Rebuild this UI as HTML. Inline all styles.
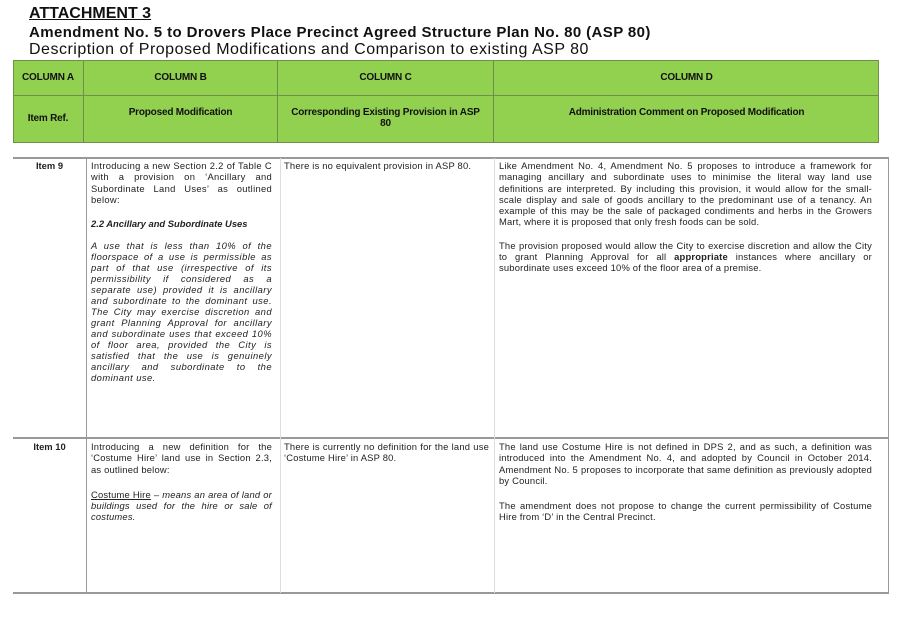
<!DOCTYPE html>
<html><head><meta charset="utf-8"><style>
body{margin:0;width:897px;height:619px;background:#fff;position:relative;font-family:"Liberation Sans",Arial,sans-serif;color:#111;overflow:hidden}
.a{position:absolute;white-space:nowrap}
.h{background:#92d050;border:1px solid #6f8f4a;box-sizing:border-box}
.ht{position:absolute;font-weight:bold;font-size:10px;text-align:center;letter-spacing:-0.2px}
.t{position:absolute;font-size:9.4px;line-height:11.3px;text-align:justify;letter-spacing:0.2px;color:#222}
.vl{position:absolute;width:1px;background:#999}
p{margin:0}
</style></head><body>
<div class="a" style="left:29px;top:5px;font-size:16px;font-weight:bold;text-decoration:underline">ATTACHMENT 3</div>
<div class="a" style="left:29px;top:24px;font-size:15px;font-weight:bold;letter-spacing:0.4px">Amendment No. 5 to Drovers Place Precinct Agreed Structure Plan No. 80 (ASP 80)</div>
<div class="a" style="left:29px;top:41px;font-size:16px;letter-spacing:0.5px">Description of Proposed Modifications and Comparison to existing ASP 80</div>

<div class="a h" style="left:13px;top:60px;width:866px;height:83px"></div>
<div class="a" style="left:13px;top:95px;width:866px;height:1px;background:#6f8f4a"></div>
<div class="a" style="left:83px;top:60px;width:1px;height:83px;background:#6f8f4a"></div>
<div class="a" style="left:277px;top:60px;width:1px;height:83px;background:#6f8f4a"></div>
<div class="a" style="left:493px;top:60px;width:1px;height:83px;background:#6f8f4a"></div>
<div class="ht" style="left:13px;width:70px;top:72px">COLUMN A</div>
<div class="ht" style="left:84px;width:193px;top:72px">COLUMN B</div>
<div class="ht" style="left:278px;width:215px;top:72px">COLUMN C</div>
<div class="ht" style="left:494px;width:385px;top:72px">COLUMN D</div>
<div class="ht" style="left:13px;width:70px;top:113px">Item Ref.</div>
<div class="ht" style="left:84px;width:193px;top:107px">Proposed Modification</div>
<div class="ht" style="left:278px;width:215px;top:107px;line-height:11px">Corresponding Existing Provision in ASP<br>80</div>
<div class="ht" style="left:494px;width:385px;top:107px">Administration Comment on Proposed Modification</div>

<div class="a" style="left:13px;top:157px;width:876px;height:2px;background:#999"></div>
<div class="a" style="left:13px;top:437px;width:876px;height:2px;background:#999"></div>
<div class="a" style="left:13px;top:592px;width:876px;height:2px;background:#999"></div>
<div class="vl" style="left:86px;top:158px;height:435px"></div>
<div class="vl" style="left:280px;top:158px;height:435px;background:#ddd"></div>
<div class="vl" style="left:494px;top:158px;height:435px;background:#ddd"></div>
<div class="vl" style="left:888px;top:158px;height:435px"></div>

<div class="t" style="left:13px;width:73px;top:160px;text-align:center;font-weight:bold;letter-spacing:0">Item 9</div>
<div class="t" style="left:91px;width:181px;top:160px">
<p style="letter-spacing:0.3px">Introducing a new Section 2.2 of Table C with a provision on ‘Ancillary and Subordinate Land Uses’ as outlined below:</p>
<p style="margin-top:13px;font-weight:bold;font-style:italic;letter-spacing:0">2.2 Ancillary and Subordinate Uses</p>
<p style="margin-top:11px;font-style:italic;letter-spacing:0.45px;line-height:11px">A use that is less than 10% of the floorspace of a use is permissible as part of that use (irrespective of its permissibility if considered as a separate use) provided it is ancillary and subordinate to the dominant use. The City may exercise discretion and grant Planning Approval for ancillary and subordinate uses that exceed 10% of floor area, provided the City is satisfied that the use is genuinely ancillary and subordinate to the dominant use.</p>
</div>
<div class="t" style="left:284px;width:205px;top:160px;text-align:left">There is no equivalent provision in ASP 80.</div>
<div class="t" style="left:499px;width:373px;top:160px">
<p>Like Amendment No. 4, Amendment No. 5 proposes to introduce a framework for managing ancillary and subordinate uses to minimise the literal way land use definitions are interpreted. By including this provision, it would allow for the small-scale display and sale of goods ancillary to the predominant use of a tenancy. An example of this may be the sale of packaged condiments and herbs in the Growers Mart, where it is proposed that only fresh foods can be sold.</p>
<p style="margin-top:12px">The provision proposed would allow the City to exercise discretion and allow the City to grant Planning Approval for all <b>appropriate</b> instances where ancillary or subordinate uses exceed 10% of the floor area of a premise.</p>
</div>

<div class="t" style="left:13px;width:73px;top:441px;text-align:center;font-weight:bold;letter-spacing:0">Item 10</div>
<div class="t" style="left:91px;width:181px;top:441px">
<p>Introducing a new definition for the ‘Costume Hire’ land use in Section 2.3, as outlined below:</p>
<p style="margin-top:14px"><u>Costume Hire</u> – <i>means an area of land or buildings used for the hire or sale of costumes.</i></p>
</div>
<div class="t" style="left:284px;width:205px;top:441px">There is currently no definition for the land use ‘Costume Hire’ in ASP 80.</div>
<div class="t" style="left:499px;width:373px;top:441px">
<p>The land use Costume Hire is not defined in DPS 2, and as such, a definition was introduced into the Amendment No. 4, and adopted by Council in October 2014. Amendment No. 5 proposes to incorporate that same definition as previously adopted by Council.</p>
<p style="margin-top:14px">The amendment does not propose to change the current permissibility of Costume Hire from ‘D’ in the Central Precinct.</p>
</div>
</body></html>
